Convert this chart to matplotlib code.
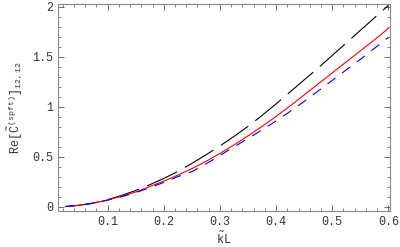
import numpy as np
import matplotlib.pyplot as plt
from matplotlib.ticker import MultipleLocator

# values
kL = [0.025, 0.05, 0.075, 0.1, 0.125, 0.15, 0.175, 0.2, 0.225, 0.25, 0.275, 0.3,
      0.325, 0.35, 0.375, 0.4, 0.425, 0.45, 0.475, 0.5, 0.525, 0.55, 0.575, 0.6]
c_black = [0.004, 0.018, 0.040, 0.073, 0.115, 0.165, 0.222, 0.285, 0.355, 0.435, 0.52, 0.61,
           0.705, 0.805, 0.915, 1.03, 1.15, 1.27, 1.39, 1.515, 1.64, 1.765, 1.89, 2.015]
c_red = [0.004, 0.017, 0.038, 0.070, 0.107, 0.150, 0.203, 0.258, 0.318, 0.383, 0.455, 0.535,
         0.62, 0.71, 0.805, 0.905, 1.01, 1.12, 1.23, 1.34, 1.45, 1.56, 1.67, 1.785]
c_blue = [0.004, 0.017, 0.037, 0.068, 0.102, 0.143, 0.192, 0.245, 0.303, 0.353, 0.43, 0.515,
          0.60, 0.685, 0.77, 0.86, 0.955, 1.055, 1.16, 1.265, 1.37, 1.475, 1.585, 1.695]

plt.rcParams['font.family'] = ['Liberation Mono', 'DejaVu Sans']
plt.rcParams['mathtext.fontset'] = 'custom'
plt.rcParams['mathtext.rm'] = 'Liberation Mono'
plt.rcParams['mathtext.it'] = 'Liberation Mono'

fig = plt.figure(figsize=(4, 2.47), dpi=100)
ax = fig.add_axes([0.145, 0.146, 0.83, 0.838])

ax.plot(kL, c_black, color='black', lw=0.8, dashes=(30, 8))
ax.plot(kL, c_red, color='red', lw=0.8)
ax.plot(kL, c_blue, color='blue', lw=0.8, dashes=(9, 7.5))

ax.set_xlim(0.0115, 0.603)
ax.set_ylim(-0.04, 2.03)
ax.xaxis.set_major_locator(MultipleLocator(0.1))
ax.xaxis.set_minor_locator(MultipleLocator(0.02))
ax.yaxis.set_major_locator(MultipleLocator(0.5))
ax.yaxis.set_minor_locator(MultipleLocator(0.1))
ax.xaxis.set_major_formatter(lambda v, p: f'{v:.1f}')
ax.yaxis.set_major_formatter(lambda v, p: '0' if v == 0 else ('%g' % v))

ax.tick_params(which='both', direction='in', top=True, right=True, colors='#555555',
               labelcolor='#333333', labelsize=8.5)
ax.tick_params(which='major', length=4, width=0.6)
ax.tick_params(which='minor', length=2, width=0.5)
for s in ax.spines.values():
    s.set_color('#888888')
    s.set_linewidth(0.8)

ax.set_xlabel(r'$\tilde{\mathrm{k}}$L', fontsize=8.5, color='#333333', labelpad=2)
ax.set_ylabel(r'Re$[\tilde{\mathrm{C}}^{(\mathrm{spft})}]_{12,12}$', fontsize=8.5,
              color='#333333', labelpad=5)

fig.savefig('out.png', dpi=100)
